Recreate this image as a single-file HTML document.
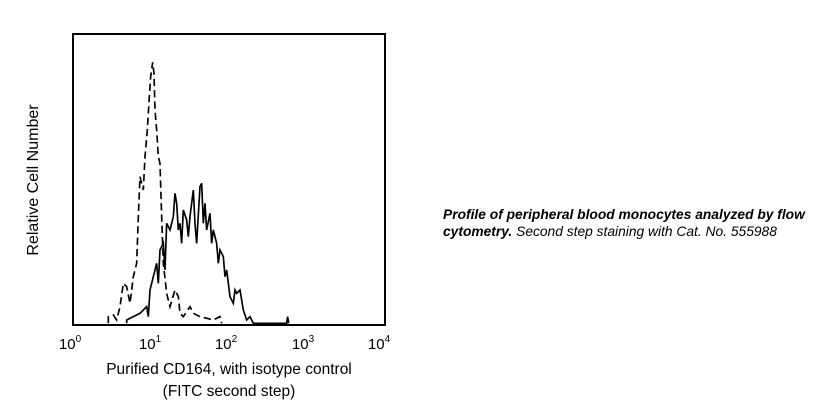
<!DOCTYPE html>
<html><head><meta charset="utf-8"><style>
html,body{margin:0;padding:0;background:#fff;width:820px;height:413px;overflow:hidden}
.cap{position:absolute;left:443px;top:206px;width:380px;font:italic 13.8px/17px "Liberation Sans",sans-serif;color:#000;white-space:nowrap}
</style></head><body>
<svg width="820" height="413" style="position:absolute;left:0;top:0" font-family="Liberation Sans, sans-serif">
<rect x="73" y="34" width="312" height="291" fill="#fff" stroke="#000" stroke-width="2"/>
<g transform="translate(60,30) scale(0.3333)" fill="none" stroke="#000" stroke-width="5">
<path stroke-dasharray="22,12" d="M145,880 L145,860 L160,855 L170,870 L180,830 L190,760 L200,770 L210,820 L220,740 L230,700 L235,560 L240,440 L250,480 L255,380 L262,300 L268,200 L272,140 L278,97 L282,130 L285,240 L290,300 L295,380 L300,400 L305,560 L310,700 L320,790 L330,830 L345,780 L355,800 L360,850 L370,860 L390,830 L400,850 L420,860 L460,870 L480,860 L485,880"/>
<path d="M200,880 L200,870 L220,860 L240,850 L260,830 L265,860 L270,780 L280,740 L290,700 L295,760 L300,660 L310,640 L315,720 L320,580 L330,600 L340,560 L345,490 L350,520 L355,600 L360,580 L365,640 L370,540 L380,570 L385,620 L390,560 L400,480 L405,580 L410,640 L420,470 L425,460 L430,580 L435,520 L440,600 L450,550 L455,640 L460,600 L470,640 L475,700 L480,660 L490,680 L495,740 L500,720 L510,800 L520,820 L525,780 L530,790 L540,780 L550,840 L560,870 L570,860 L580,880 L680,880 L683,860 L686,880"/>
</g>
<g font-size="15" fill="#000" text-anchor="middle">
<text x="70" y="349">10<tspan font-size="10" dy="-7">0</tspan></text>
<text x="150" y="349">10<tspan font-size="10" dy="-7">1</tspan></text>
<text x="226" y="349">10<tspan font-size="10" dy="-7">2</tspan></text>
<text x="303" y="349">10<tspan font-size="10" dy="-7">3</tspan></text>
<text x="379" y="349">10<tspan font-size="10" dy="-7">4</tspan></text>
<text x="229" y="374" font-size="15.5">Purified CD164, with isotype control</text>
<text x="229" y="396" font-size="15.5">(FITC second step)</text>
<text transform="translate(38,180) rotate(-90)" font-size="16">Relative Cell Number</text>
</g>
</svg>
<div class="cap"><b>Profile of peripheral blood monocytes analyzed by flow<br>cytometry.</b> Second step staining with Cat. No. 555988</div>
</body></html>
